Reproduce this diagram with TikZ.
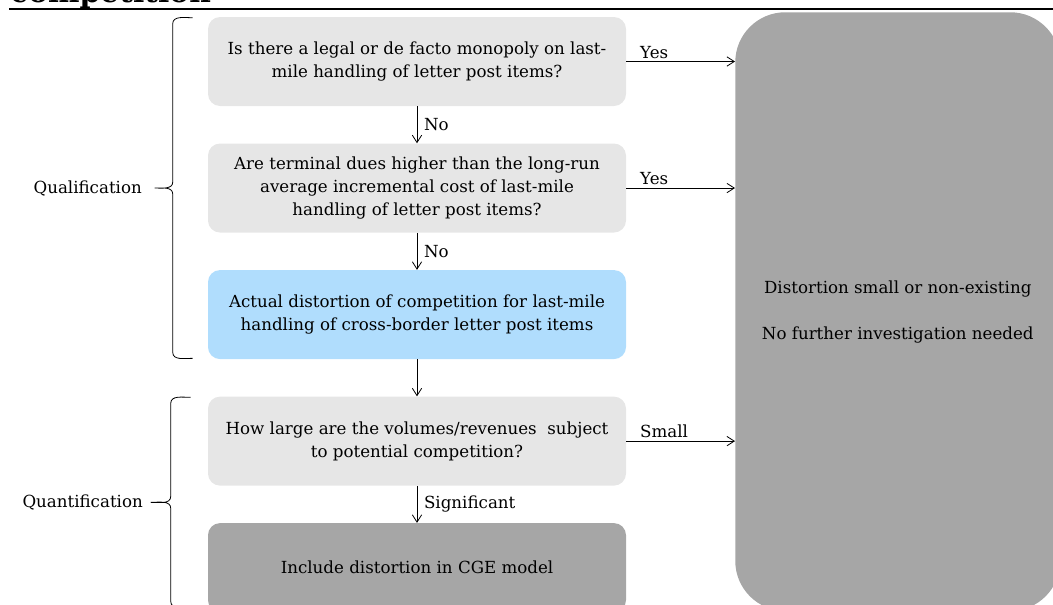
\documentclass[tikz,border=0pt]{standalone}
\usepackage{fontspec}
\setmainfont{DejaVu Serif}
\usetikzlibrary{arrows.meta,positioning,calc}
\definecolor{QuestGray}{RGB}{230,230,230}
\definecolor{StopGray}{RGB}{166,166,166}
\definecolor{ResultBlue}{RGB}{176,221,253}
\tikzset{
  qbox/.style={rounded corners=9pt,fill=QuestGray,
    minimum width=313.5pt,minimum height=66.75pt,align=center,
    font=\fontsize{12.5}{17.5}\selectfont},
  stopbox/.style={rounded corners=37.5pt,fill=StopGray,
    minimum width=243.75pt,minimum height=449pt,align=center,
    font=\fontsize{12.5}{17.5}\selectfont},
  flowarrow/.style={-{Straight Barb[length=5.5pt,width=7pt]},
    line width=0.6pt,draw=black},
  lbl/.style={font=\fontsize{12.5}{14}\selectfont,inner sep=2pt},
  bracket/.style={line width=0.6pt,draw=black},
}
\begin{document}
\begin{tikzpicture}[x=0.75pt,y=0.75pt,node distance=27.75pt]
  \useasboundingbox (0,0) rectangle (1053,-604);
  % heading cut by the page edge
  \node[anchor=base west,inner sep=0pt,font=\bfseries\fontsize{22.3}{24}\selectfont]
    (heading) at (10,-2) {competition};
  \draw[line width=1.4pt] (9,-9) -- (1053,-9);

  \node[qbox] (monopoly) at (417,-61.5)
    {Is there a legal or de facto monopoly on last-\\mile handling of letter post items?};
  \node[qbox,below=of monopoly] (dues)
    {Are terminal dues higher than the long-run\\average incremental cost of last-mile\\handling of letter post items?};
  \node[qbox,fill=ResultBlue,below=of dues] (distortion)
    {Actual distortion of competition for last-mile\\handling of cross-border letter post items};
  \node[qbox,below=of distortion] (volume)
    {How large are the volumes/revenues\ \ subject\\to potential competition?};
  \node[qbox,fill=StopGray,below=of volume] (cge)
    {Include distortion in CGE model};
  \node[stopbox,anchor=north west] (stop) at (735,-12)
    {Distortion small or non-existing\\[17pt]No further investigation needed};

  \draw[flowarrow] (monopoly) -- node[lbl,right=3pt] {No} (dues);
  \draw[flowarrow] (dues) -- node[lbl,right=3pt] {No} (distortion);
  \draw[flowarrow] (distortion) -- (volume);
  \draw[flowarrow] (volume) -- node[lbl,right=3pt] {Significant} (cge);
  \draw[flowarrow] (monopoly.east) -- node[lbl,pos=0.1,anchor=south west] {Yes}
    (monopoly.east -| stop.west);
  \draw[flowarrow] (dues.east) -- node[lbl,pos=0.1,anchor=south west] {Yes}
    (dues.east -| stop.west);
  \draw[flowarrow] (volume.east) -- node[lbl,pos=0.1,anchor=south west] {Small}
    (volume.east -| stop.west);

  % braces
  \coordinate (qualtop) at ($(monopoly.north west)+(-15,-1)$);
  \coordinate (qualbot) at ($(distortion.south west)+(-15,1)$);
  \coordinate (qualtip) at ($(qualtop)!0.5!(qualbot)+(-38,0)$);
  \draw[bracket] (qualtop) to[out=180,in=90] ++(-20,-6) -- ($(qualtip)+(18,6)$)
    to[out=-90,in=0] (qualtip) to[out=0,in=90] ($(qualtip)+(18,-6)$)
    -- ($(qualbot)+(-20,6)$) to[out=-90,in=180] (qualbot);
  \node[lbl,anchor=east] (qual) at ($(qualtip)+(-10,0)$) {Qualification};

  \coordinate (quanttop) at ($(volume.north west)+(-17,-1)$);
  \coordinate (quanttip) at ($(quanttop)+(-40,-105)$);
  \coordinate (quantbot) at ($(quanttop)+(0,-210)$);
  \draw[bracket] (quanttop) to[out=180,in=90] ++(-20,-6) -- ($(quanttip)+(20,6)$)
    to[out=-90,in=0] (quanttip) to[out=0,in=90] ($(quanttip)+(20,-6)$)
    -- ($(quantbot)+(-20,6)$) to[out=-90,in=180] (quantbot);
  \node[lbl,anchor=east] (quant) at ($(quanttip)+(-5,0)$) {Quantification};
\end{tikzpicture}
\end{document}
